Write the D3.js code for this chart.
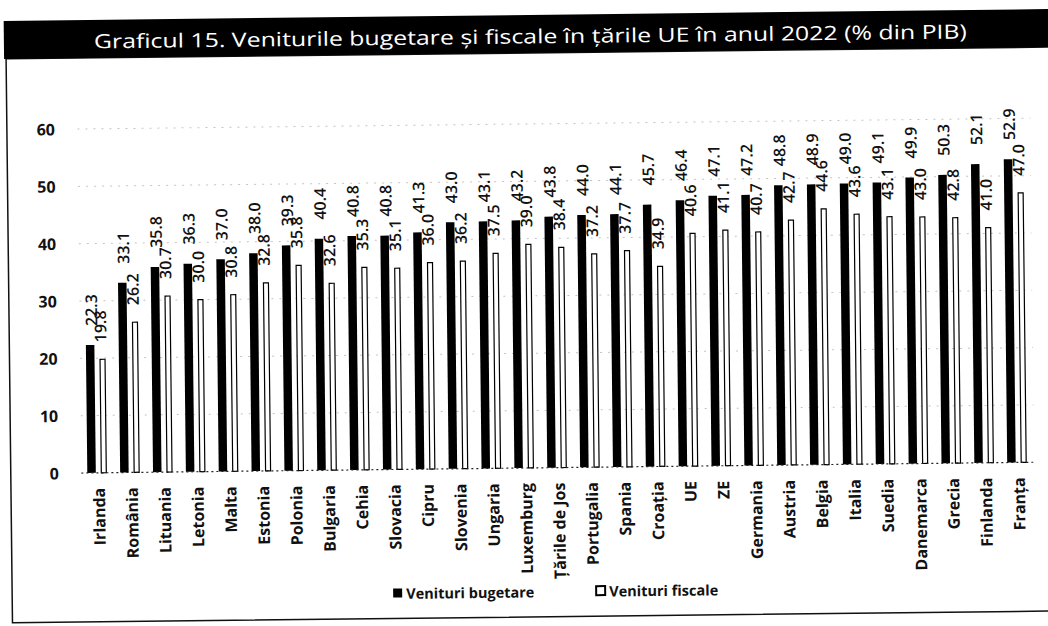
<!DOCTYPE html>
<html>
<head>
<meta charset="utf-8">
<script src="https://cdn.jsdelivr.net/npm/d3@7"></script>
<style>
  html, body { margin: 0; padding: 0; background: #fff; }
  svg { display: block; font-family: "Open Sans", "Noto Sans", sans-serif; }
</style>
</head>
<body>
<svg id="chart" width="1048" height="626"></svg>
<script>
'use strict';

var categories = ['Irlanda', 'România', 'Lituania', 'Letonia', 'Malta', 'Estonia', 'Polonia', 'Bulgaria',
  'Cehia', 'Slovacia', 'Cipru', 'Slovenia', 'Ungaria', 'Luxemburg', 'Țările de Jos', 'Portugalia',
  'Spania', 'Croația', 'UE', 'ZE', 'Germania', 'Austria', 'Belgia', 'Italia', 'Suedia', 'Danemarca',
  'Grecia', 'Finlanda', 'Franța'];
var budgetValues = [22.3, 33.1, 35.8, 36.3, 37.0, 38.0, 39.3, 40.4, 40.8, 40.8, 41.3, 43.0, 43.1, 43.2,
  43.8, 44.0, 44.1, 45.7, 46.4, 47.1, 47.2, 48.8, 48.9, 49.0, 49.1, 49.9, 50.3, 52.1, 52.9];
var fiscalValues = [19.8, 26.2, 30.7, 30.0, 30.8, 32.8, 35.8, 32.6, 35.3, 35.1, 36.0, 36.2, 37.5, 39.0,
  38.4, 37.2, 37.7, 34.9, 40.6, 41.1, 40.7, 42.7, 44.6, 43.6, 43.1, 43.0, 42.8, 41.0, 47.0];
var yTicks = [0, 10, 20, 30, 40, 50, 60];
var seriesNames = ['Venituri bugetare', 'Venituri fiscale'];
var title = 'Graficul 15. Veniturile bugetare și fiscale în țările UE în anul 2022 (% din PIB)';

var svg = d3.select('#chart'),
    // the scan is slightly tilted, so the whole page is turned a little
    page = svg.append('g').attr('transform', 'rotate(-0.65 524 313)'),
    x = d3.scaleBand().domain(categories).range([79.6, 1032.4]),
    y = d3.scaleLinear().domain([0, 60]).range([468, 124]),
    fmt = d3.format('.1f'),
    rows = categories.map(function (c, i) {
      return { name: c, budget: budgetValues[i], fiscal: fiscalValues[i] };
    });

function cx(d) { return x(d.name) + x.bandwidth() / 2; }

// frame + title bar
page.append('rect').attr('x', 9).attr('y', 53).attr('width', 1100).attr('height', 564)
  .attr('fill', 'none').attr('stroke', '#111').attr('stroke-width', 1.5);
page.append('rect').attr('x', 7).attr('y', 15).attr('width', 1100).attr('height', 38).attr('fill', '#000');
page.append('text').attr('x', 97).attr('y', 43.5).attr('fill', '#fff')
  .attr('font-size', 19.5).attr('textLength', 873).attr('lengthAdjust', 'spacingAndGlyphs')
  .text(title);

// grid lines (very faint in the scan)
page.append('g').selectAll('line').data(yTicks.slice(1)).enter().append('line')
  .attr('x1', x.range()[0]).attr('x2', x.range()[1])
  .attr('y1', function (d) { return y(d); }).attr('y2', function (d) { return y(d); })
  .attr('stroke', '#c4c4c4').attr('stroke-width', 1).attr('stroke-dasharray', '2,6');

// y axis labels
page.append('g').selectAll('text').data(yTicks).enter().append('text')
  .attr('x', 57).attr('y', function (d) { return y(d); })
  .attr('text-anchor', 'end').attr('dominant-baseline', 'central')
  .attr('font-size', 16).attr('font-weight', 700).attr('fill', '#111')
  .text(function (d) { return d; });

// bars
var group = page.append('g').selectAll('g').data(rows).enter().append('g');

group.append('rect').attr('class', 'budget')
  .attr('x', function (d) { return cx(d) - 10.5; }).attr('width', 8.5)
  .attr('y', function (d) { return y(d.budget); })
  .attr('height', function (d) { return y(0) - y(d.budget); })
  .attr('fill', '#000');

group.append('rect').attr('class', 'fiscal')
  .attr('x', function (d) { return cx(d) + 3.5; }).attr('width', 5)
  .attr('y', function (d) { return y(d.fiscal); })
  .attr('height', function (d) { return y(0) - y(d.fiscal); })
  .attr('fill', '#fff').attr('stroke', '#000').attr('stroke-width', 1.2);

// value labels (rotated, sitting above their own bars, overlapping like the original)
group.append('text')
  .attr('transform', function (d) { return 'translate(' + (cx(d) + 4) + ',' + (y(d.fiscal) - 17) + ') rotate(-90)'; })
  .attr('dominant-baseline', 'central').attr('font-size', 16).attr('font-weight', 600).attr('fill', '#111')
  .text(function (d) { return fmt(d.fiscal); });

group.append('text')
  .attr('transform', function (d) { return 'translate(' + (cx(d) - 5) + ',' + (y(d.budget) - 19) + ') rotate(-90)'; })
  .attr('dominant-baseline', 'central').attr('font-size', 16).attr('font-weight', 600).attr('fill', '#111')
  .text(function (d) { return fmt(d.budget); });

// baseline
page.append('line').attr('x1', x.range()[0]).attr('x2', x.range()[1])
  .attr('y1', y(0)).attr('y2', y(0))
  .attr('stroke', '#222').attr('stroke-width', 1.2).attr('stroke-dasharray', '2,3');

// category labels
page.append('g').selectAll('text').data(categories).enter().append('text')
  .attr('transform', function (d) { return 'translate(' + (x(d) + x.bandwidth() / 2 + 1) + ',' + (y(0) + 15) + ') rotate(-90)'; })
  .attr('text-anchor', 'end').attr('dominant-baseline', 'central')
  .attr('font-size', 16).attr('font-weight', 700).attr('fill', '#111')
  .text(function (d) { return d; });

// legend
var legend = page.append('g').selectAll('g').data(seriesNames).enter().append('g')
  .attr('transform', function (d, i) { return 'translate(' + (i === 0 ? 390 : 593) + ',592)'; });
legend.append('rect').attr('x', 0).attr('y', -5).attr('width', 9).attr('height', 9)
  .attr('fill', function (d, i) { return i === 0 ? '#000' : '#fff'; })
  .attr('stroke', '#000').attr('stroke-width', function (d, i) { return i === 0 ? 0 : 2; });
legend.append('text').attr('x', 13).attr('y', 0).attr('dominant-baseline', 'central')
  .attr('font-size', 14.5).attr('font-weight', 700).attr('fill', '#111')
  .text(function (d) { return d; });
</script>
</body>
</html>
